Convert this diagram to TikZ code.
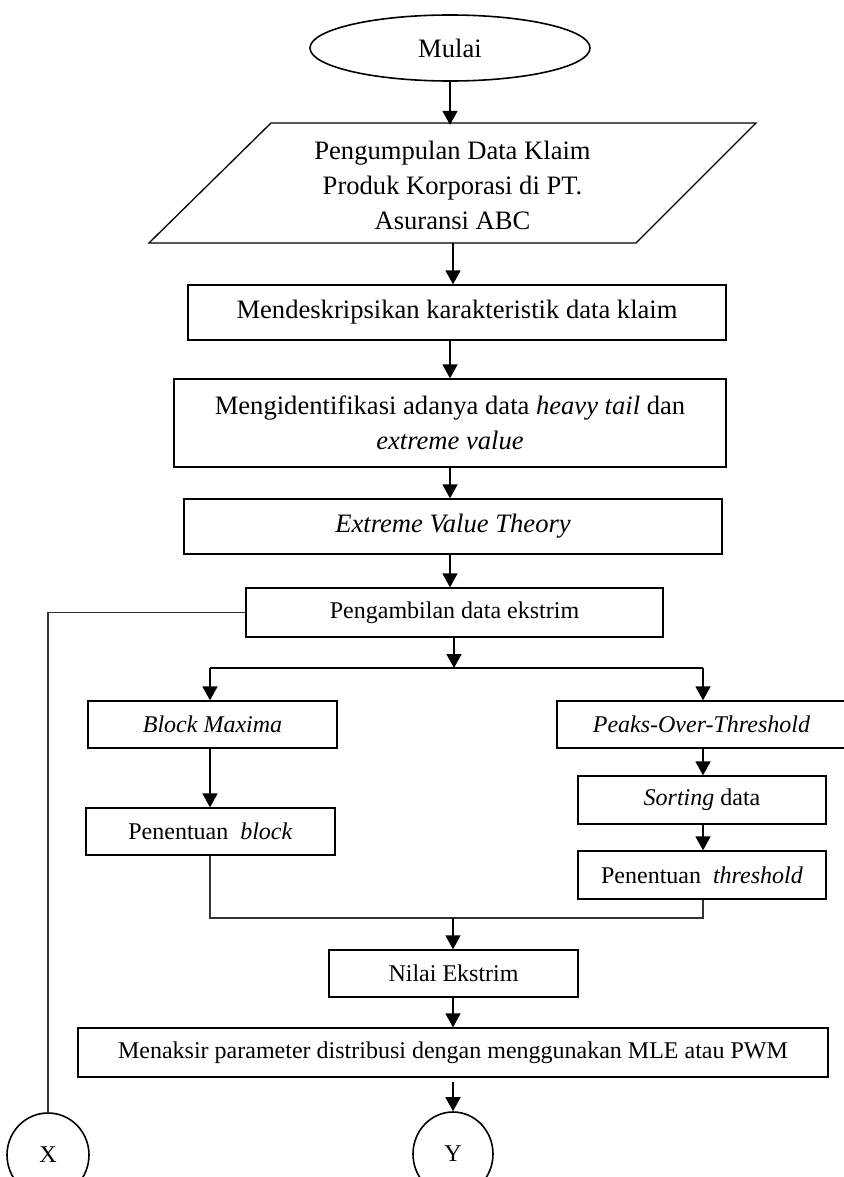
\documentclass[tikz,border=0pt]{standalone}
\usepackage{fontspec}
\setmainfont{Liberation Serif}
\usetikzlibrary{arrows.meta,shapes.geometric}
\begin{document}
\begin{tikzpicture}[x=1pt,y=-1pt,
  font=\fontsize{24}{35}\selectfont,
  big/.style={font=\fontsize{26.6}{35}\selectfont},
  box/.style={draw, line width=1.3pt, inner sep=0pt, align=center},
  term/.style={draw, ellipse, line width=1.6pt, inner sep=0pt},
  arr/.style={line width=1.6pt, -{Triangle[length=14pt,width=15pt]}},
  link/.style={line width=1.2pt, draw=black!80},
  split/.style={line width=1.3pt}]
\useasboundingbox (0,0) rectangle (843,1177);

% nodes
\node[term, big, minimum width=280pt, minimum height=66pt] (start) at (450,48) {Mulai};
\node[big, align=center, inner sep=0pt, minimum width=485pt, minimum height=120pt] (inp) at (452.5,185)
  {Pengumpulan Data Klaim\\Produk Korporasi di PT.\\Asuransi ABC};
\draw[line width=1.3pt] (271,123) -- (756,123) -- (636,243) -- (149,243) -- cycle;

\node[box, big, minimum width=538pt, minimum height=55pt] (desc) at (457,312.5)
  {Mendeskripsikan karakteristik data klaim};
\node[box, big, minimum width=552pt, minimum height=88pt] (ident) at (450,423)
  {Mengidentifikasi adanya data \textit{heavy tail} dan\\\textit{extreme value}};
\node[box, big, minimum width=538pt, minimum height=55pt] (evt) at (453,526.5)
  {\textit{Extreme Value Theory}};
\node[box, minimum width=417pt, minimum height=49pt] (ambil) at (454.5,612.5)
  {Pengambilan data ekstrim};
\node[box, minimum width=249pt, minimum height=47pt] (bm) at (212.5,724.5)
  {\textit{Block Maxima}};
\node[box, minimum width=289pt, minimum height=47pt] (pot) at (701.5,724.5)
  {\textit{Peaks-Over-Threshold}};
\node[box, minimum width=249pt, minimum height=47pt] (pb) at (210.5,831.5)
  {Penentuan~ \textit{block}};
\node[box, minimum width=248pt, minimum height=48pt] (sort) at (702,800)
  {\textit{Sorting} data};
\node[box, minimum width=248pt, minimum height=48pt] (pt) at (702,875)
  {Penentuan~ \textit{threshold}};
\node[box, minimum width=249pt, minimum height=47pt] (nilai) at (453.5,973.5)
  {Nilai Ekstrim};
\node[box, minimum width=750pt, minimum height=49pt] (taksir) at (453,1052.5)
  {Menaksir parameter distribusi dengan menggunakan MLE atau PWM};
\node[term, minimum width=82pt, minimum height=84pt] (X) at (48,1155) {X};
\node[term, minimum width=80pt, minimum height=84pt] (Y) at (453,1154) {Y};

% coordinates
\coordinate (sp) at (454,668);
\coordinate (bl) at (210,668);
\coordinate (br) at (703,668);
\coordinate (jl) at (210,918);
\coordinate (jr) at (703,918);
\coordinate (jn) at (453,918);
\coordinate (ty) at (453,1082);
\coordinate (ia) at (453,243);

% connectors
\draw[arr] (start.south) -- (start.south |- inp.north);
\draw[arr] (ia) -- (ia |- desc.north);
\draw[arr] (ident.north |- desc.south) -- (ident.north);
\draw[arr] (ident.south) -- (ident.south |- evt.north);
\draw[arr] (ident.south |- evt.south) -- (ident.south |- ambil.north);
\draw[arr] (ambil.south -| sp) -- (sp);
\draw[split] (bl) -- (br);
\draw[arr] (bl) -- (bl |- bm.north);
\draw[arr] (br) -- (br |- pot.north);
\draw[arr] (bm.south -| bl) -- (bl |- pb.north);
\draw[arr] (pot.south -| br) -- (br |- sort.north);
\draw[arr] (sort.south -| br) -- (br |- pt.north);
\draw[link] (pb.south -| jl) -- (jl) -- (jr) -- (pt.south -| jr);
\draw[arr] (jn) -- (jn |- nilai.north);
\draw[arr] (nilai.south -| jn) -- (jn |- taksir.north);
\draw[arr] (ty) -- (Y.north);
\draw[link] (ambil.west) -| (X.north);
\end{tikzpicture}
\end{document}
